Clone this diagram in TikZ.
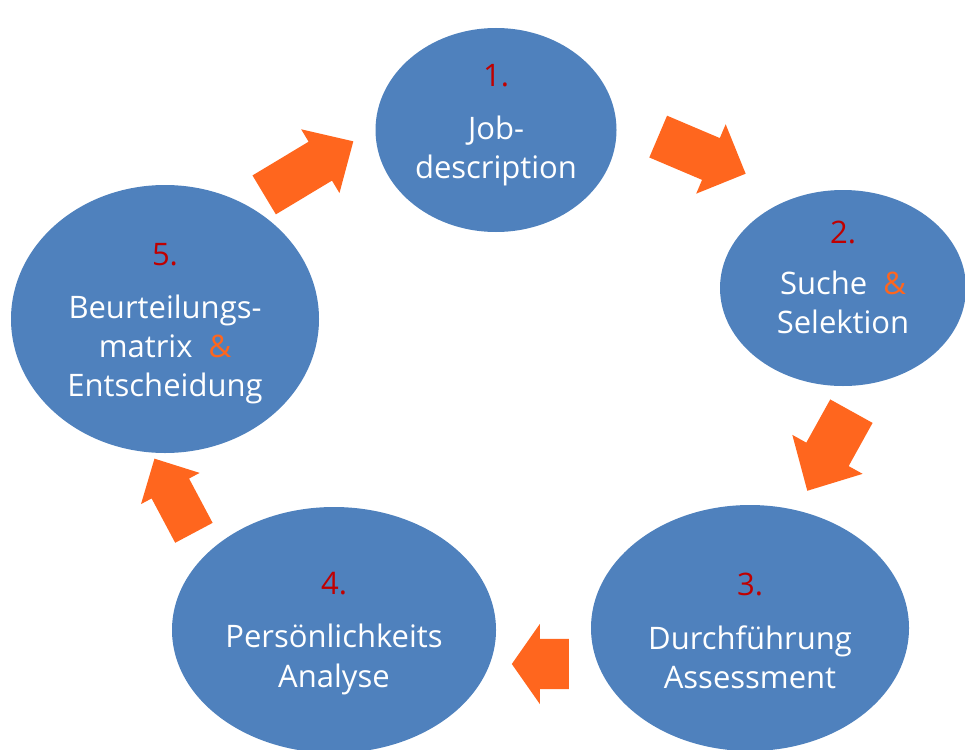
\documentclass[tikz,border=0pt]{standalone}
\usepackage{fontspec}
\setmainfont{Open Sans}
\usetikzlibrary{shapes.geometric,shapes.arrows}
\definecolor{phaseblue}{RGB}{79,129,189}
\definecolor{flowor}{RGB}{255,102,30}
\definecolor{nrred}{RGB}{192,0,0}
\newcommand{\nr}[1]{\textcolor{nrred}{#1}}
\newcommand{\amp}{\textcolor{flowor}{\&}}
\newcommand{\lift}[1]{\rule[-#1]{0pt}{#1}}
\begin{document}
\begin{tikzpicture}[x=1pt,y=-1pt]
\tikzset{
  phase/.style={ellipse,fill=phaseblue,inner sep=0pt,text=white,align=center,font=\fontsize{31}{39}\selectfont},
  flow/.style={single arrow,fill=flowor,inner xsep=0pt,anchor=tail,minimum height=#1}
}
\useasboundingbox (0,0) rectangle (965,749);
\node[phase,minimum width=241pt,minimum height=204pt] (job) at (496,130) {\nr{1.}\\[14pt] Job-\\description\lift{18pt}};
\node[phase,minimum width=246pt,minimum height=196pt] (search) at (843,288) {\nr{2.}\\[12pt] Suche\ \ \amp\\Selektion\lift{22pt}};
\node[phase,minimum width=318pt,minimum height=246pt] (assess) at (750,628) {\nr{3.}\rule{0pt}{28pt}\\[15pt] Durchführung\\Assessment};
\node[phase,minimum width=324pt,minimum height=246pt] (person) at (334,630) {\nr{4.}\rule{0pt}{30pt}\\[14pt] Persönlichkeits\\[1pt]Analyse};
\node[phase,minimum width=308pt,minimum height=268pt] (decide) at (165,319) {\nr{5.}\rule{0pt}{32pt}\\[14pt] Beurteilungs-\\matrix\ \ \amp\\Entscheidung};
% arrows between the phases
\node[flow=104pt,inner ysep=22.5pt,single arrow head extend=14.5pt,single arrow tip angle=88,rotate=31] (a51) at (264,195) {};
\node[flow=95pt,inner ysep=22.5pt,single arrow head extend=15pt,single arrow tip angle=90,rotate=-23] (a12) at (658,136.5) {};
\node[flow=91pt,inner ysep=24pt,single arrow head extend=16pt,single arrow tip angle=88,rotate=-119] (a23) at (851.5,411) {};
\node[flow=57pt,inner ysep=25pt,single arrow head extend=15pt,single arrow tip angle=110,rotate=180] (a34) at (569,664) {};
\node[flow=84pt,inner ysep=21pt,single arrow head extend=12pt,single arrow tip angle=89,rotate=118] (a45) at (194,533) {};
\end{tikzpicture}
\end{document}
